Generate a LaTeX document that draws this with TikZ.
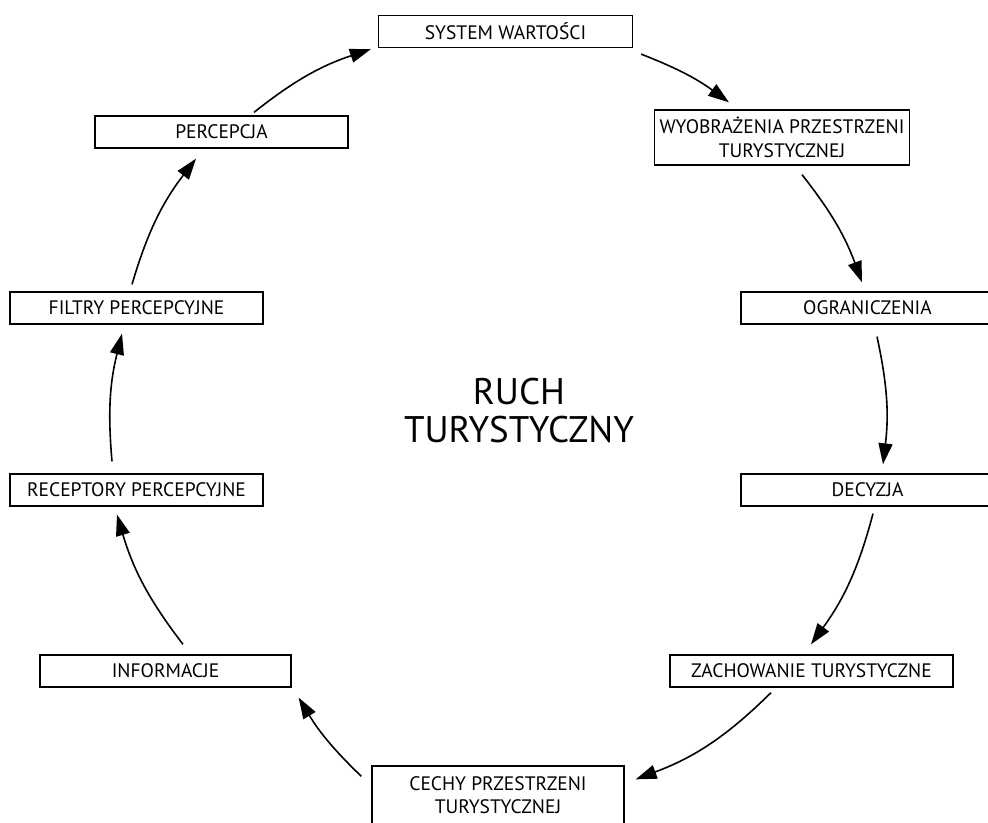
\documentclass[tikz,border=0pt]{standalone}
\usepackage{fontspec}
\setmainfont{PT Sans}
\usetikzlibrary{arrows.meta}
\begin{document}
\begin{tikzpicture}[x=1pt,y=1pt,
  box/.style={draw=black,line width=1.3pt,inner sep=0pt,align=center,
    font=\fontsize{19.5}{23.5}\selectfont,minimum height=32pt},
  conn/.style={line width=1.6pt,-{Triangle[length=21pt,width=14pt]}},
]
\useasboundingbox[fill=white] (0,0) rectangle (988,822);
\node[box,minimum width=254pt] (sys) at (505.5,790.5) {SYSTEM WARTOŚCI};
\node[box,minimum width=255pt,minimum height=55pt] (wyo) at (782,684.5) {WYOBRAŻENIA PRZESTRZENI\\TURYSTYCZNEJ};
\node[box,minimum width=253pt] (ogr) at (867.5,514) {OGRANICZENIA};
\node[box,minimum width=253pt] (dec) at (867.5,332) {DECYZJA};
\node[box,minimum width=283pt] (zach) at (811.5,151) {ZACHOWANIE TURYSTYCZNE};
\node[box,minimum width=252pt,minimum height=58pt] (cech) at (498,27) {CECHY PRZESTRZENI\\TURYSTYCZNEJ};
\node[box,minimum width=251pt] (inf) at (165.5,151) {INFORMACJE};
\node[box,minimum width=253pt] (rec) at (136.5,332) {RECEPTORY PERCEPCYJNE};
\node[box,minimum width=253pt] (fil) at (136.5,514) {FILTRY PERCEPCYJNE};
\node[box,minimum width=253pt] (per) at (221.5,690) {PERCEPCJA};
\node[align=center,inner sep=0pt,font=\fontsize{37}{38}\selectfont] (ruch) at (519,411) {RUCH\\TURYSTYCZNY};
\draw[conn] ([shift={(32.5,3)}]per.north) to[bend left=10] ([shift={(-7,-1)}]sys.south west);
\draw[conn] ([shift={(8,-6)}]sys.south east) to[bend left=7.5] ([shift={(-53,7)}]wyo.north);
\draw[conn] ([shift={(20,-9)}]wyo.south) to[bend left=9] ([shift={(-5.5,9)}]ogr.north);
\draw[conn] ([shift={(9.5,-12)}]ogr.south) to[bend left=9.5] ([shift={(15.5,9)}]dec.north);
\draw[conn] ([shift={(5.5,-7)}]dec.south) to[bend left=10.5] ([shift={(-0.5,10)}]zach.north);
\draw[conn] ([shift={(-40.5,-5)}]zach.south) to[bend left=12] ([shift={(11,-14)}]cech.north east);
\draw[conn] ([shift={(-10,-11)}]cech.north west) to[bend left=7.5] ([shift={(7,-10)}]inf.south east);
\draw[conn] ([shift={(17.5,10)}]inf.north) to[bend left=10.5] ([shift={(-19.5,-8)}]rec.south);
\draw[conn] ([shift={(-24.5,12)}]rec.north) to[bend left=9.5] ([shift={(-14.5,-9)}]fil.south);
\draw[conn] ([shift={(-4.5,7)}]fil.north) to[bend left=10.5] ([shift={(-25.5,-10)}]per.south);
\end{tikzpicture}
\end{document}
